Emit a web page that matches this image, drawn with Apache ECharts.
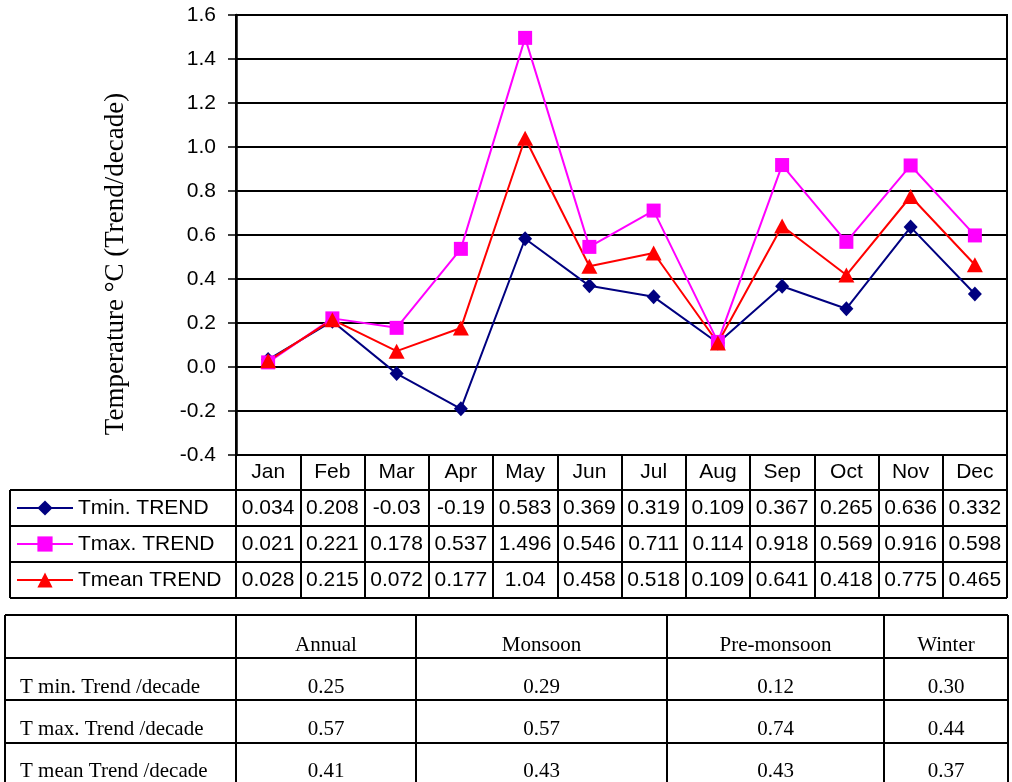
<!DOCTYPE html>
<html>
<head>
<meta charset="utf-8">
<script src="https://cdn.jsdelivr.net/npm/echarts@6/dist/echarts.min.js"></script>
<style>
html, body { margin: 0; padding: 0; background: #fff; }
#chart { width: 1012px; height: 782px; }
</style>
</head>
<body>
<div id="chart"></div>
<script>
// monthly trends (°C / decade)
const months = ['Jan', 'Feb', 'Mar', 'Apr', 'May', 'Jun', 'Jul', 'Aug', 'Sep', 'Oct', 'Nov', 'Dec']
const tminTrend = [0.034, 0.208, -0.03, -0.19, 0.583, 0.369, 0.319, 0.109, 0.367, 0.265, 0.636, 0.332]
const tmaxTrend = [0.021, 0.221, 0.178, 0.537, 1.496, 0.546, 0.711, 0.114, 0.918, 0.569, 0.916, 0.598]
const tmeanTrend = [0.028, 0.215, 0.072, 0.177, 1.04, 0.458, 0.518, 0.109, 0.641, 0.418, 0.775, 0.465]
const seriesNames = ['Tmin. TREND', 'Tmax. TREND', 'Tmean TREND']
const yMin = -0.4
const yMax = 1.6
const yStep = 0.2

// seasonal summary table
const seasons = ['Annual', 'Monsoon', 'Pre-monsoon', 'Winter']
const seasonRowNames = ['T min. Trend /decade', 'T max. Trend /decade', 'T mean Trend /decade']
const seasonTmin = [0.25, 0.29, 0.12, 0.30]
const seasonTmax = [0.57, 0.57, 0.74, 0.44]
const seasonTmean = [0.41, 0.43, 0.43, 0.37]

const chart = echarts.init(document.getElementById('chart'))

const gridLeft = 236
const gridTop = 15
const gridW = 771
const gridH = 440
const gridBottom = gridTop + gridH
const rowH = 36
const tableTop = gridBottom + 35
const tableBottom = tableTop + rowH * 3
const sans = 'Liberation Sans, Arial, sans-serif'
const serif = 'Liberation Serif, Times New Roman, serif'
const fs = 21

const valueRows = [tminTrend, tmaxTrend, tmeanTrend]

const xAxes = [
  {
    type: 'category',
    gridIndex: 0,
    position: 'bottom',
    data: months,
    boundaryGap: true,
    axisLine: { onZero: false, lineStyle: { color: '#000', width: 2 } },
    axisTick: { show: true, interval: 0, length: tableBottom - gridBottom, lineStyle: { color: '#000', width: 2 } },
    axisLabel: { interval: 0, margin: 7, color: '#000', fontSize: fs, fontFamily: sans }
  }
]
valueRows.forEach((vals, i) => {
  xAxes.push({
    type: 'category',
    gridIndex: 0,
    position: 'bottom',
    offset: 35 + rowH * i,
    data: vals.map(v => String(v)),
    axisLine: { show: false, onZero: false },
    axisTick: { show: false },
    axisLabel: { interval: 0, margin: 8, color: '#000', fontSize: fs, fontFamily: sans }
  })
})

// table borders and seasonal table
const graphics = []
const hLine = (x1, x2, y, w) => ({
  type: 'line', silent: true,
  shape: { x1, y1: y, x2, y2: y },
  style: { stroke: '#000', lineWidth: w }
})
const vLine = (x, y1, y2, w) => ({
  type: 'line', silent: true,
  shape: { x1: x, y1, x2: x, y2 },
  style: { stroke: '#000', lineWidth: w }
})
for (let i = 0; i <= 3; i++) graphics.push(hLine(10, gridLeft + gridW, tableTop + rowH * i, 2))
graphics.push(vLine(10, tableTop, tableBottom, 2))

const sTop = 615
const sRowYs = [615, 658, 700, 743]
const sCols = [5, 236, 416, 667, 884, 1008]
sRowYs.forEach(y => graphics.push(hLine(sCols[0], sCols[5], y, 2)))
sCols.forEach(x => graphics.push(vLine(x, sTop, 782, 2)))

const txt = (text, x, y, align) => ({
  type: 'text', silent: true,
  style: { text, x, y, fill: '#000', font: fs + 'px ' + serif, textAlign: align, textVerticalAlign: 'middle' }
})
seasons.forEach((s, i) => {
  graphics.push(txt(s, (sCols[i + 1] + sCols[i + 2]) / 2, 645, 'center'))
})
const seasonVals = [seasonTmin, seasonTmax, seasonTmean]
seasonRowNames.forEach((name, r) => {
  const y = 687 + 42 * r
  graphics.push(txt(name, 20, y, 'left'))
  seasonVals[r].forEach((v, i) => {
    graphics.push(txt(v.toFixed(2), (sCols[i + 1] + sCols[i + 2]) / 2, y, 'center'))
  })
})

// y axis title
graphics.push({
  type: 'text', silent: true,
  x: 116, y: 264, rotation: Math.PI / 2,
  style: {
    text: 'Temperature °C (Trend/decade)', fill: '#000',
    font: '27px ' + serif, textAlign: 'center', textVerticalAlign: 'middle'
  }
})

const option = {
  animation: false,
  backgroundColor: '#fff',
  grid: {
    left: gridLeft, top: gridTop, width: gridW, height: gridH,
    show: true, borderColor: '#000', borderWidth: 2, containLabel: false
  },
  legend: {
    data: seriesNames,
    orient: 'vertical',
    left: 16,
    top: tableTop + 6,
    padding: 0,
    itemWidth: 56,
    itemHeight: 19,
    itemGap: 12,
    selectedMode: false,
    textStyle: { color: '#000', fontSize: fs, fontFamily: sans, lineHeight: 24 }
  },
  xAxis: xAxes,
  yAxis: {
    type: 'value',
    min: yMin,
    max: yMax,
    interval: yStep,
    axisLine: { show: true, lineStyle: { color: '#000', width: 2.5 } },
    axisTick: { show: true, length: 8, lineStyle: { color: '#000', width: 1.5 } },
    axisLabel: { margin: 20, color: '#000', fontSize: fs, fontFamily: sans, formatter: v => v.toFixed(1) },
    splitLine: { show: true, lineStyle: { color: '#000', width: 2 } }
  },
  series: [
    {
      name: seriesNames[0], type: 'line', data: tminTrend,
      symbol: 'diamond', symbolSize: [14, 15],
      itemStyle: { color: '#000080' }, lineStyle: { color: '#000080', width: 2 }
    },
    {
      name: seriesNames[1], type: 'line', data: tmaxTrend,
      symbol: 'rect', symbolSize: 14,
      itemStyle: { color: '#ff00ff' }, lineStyle: { color: '#ff00ff', width: 2 }
    },
    {
      name: seriesNames[2], type: 'line', data: tmeanTrend,
      symbol: 'triangle', symbolSize: [16, 15],
      itemStyle: { color: '#ff0000' }, lineStyle: { color: '#ff0000', width: 2 }
    }
  ],
  graphic: graphics
}

chart.setOption(option)
</script>
</body>
</html>
